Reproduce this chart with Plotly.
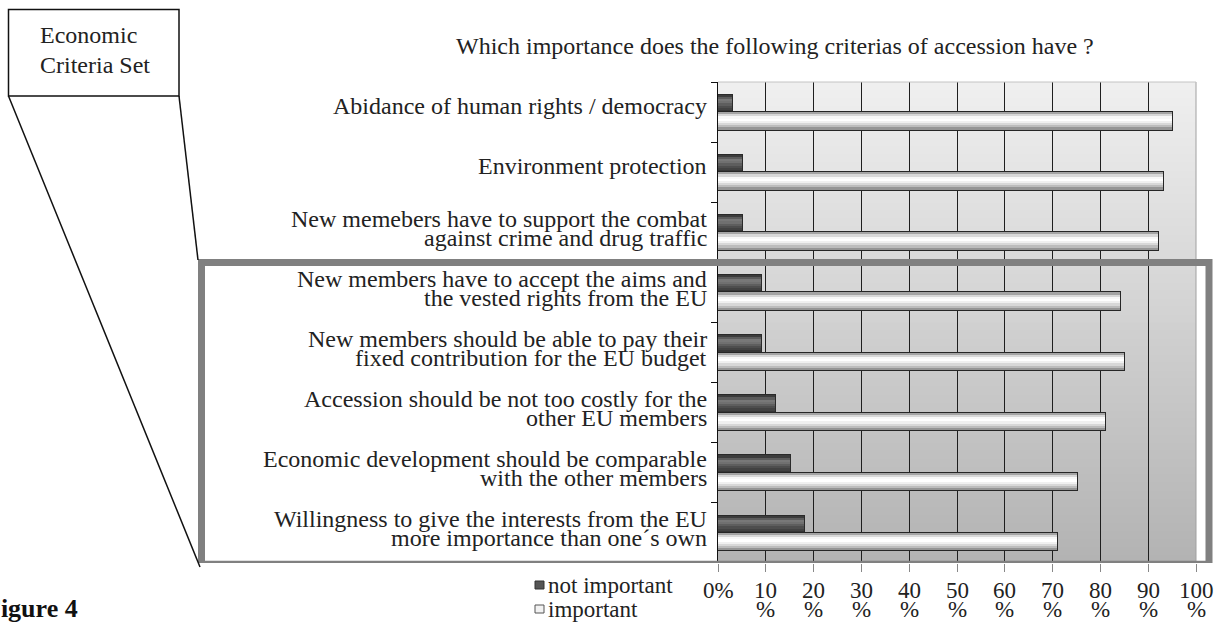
import plotly.graph_objects as go

# ---------------- data ----------------
categories = [
    "Abidance of human rights / democracy",
    "Environment protection",
    "New memebers have to support the combat\nagainst crime and drug traffic",
    "New members have to accept the aims and\nthe vested rights from the EU",
    "New members should be able to pay their\nfixed contribution for the EU budget",
    "Accession should be not too costly for the\nother EU members",
    "Economic development should be comparable\nwith the other members",
    "Willingness to give the interests from the EU\nmore importance than one\u00b4s own",
]
not_important = [3, 5, 5, 9, 9, 12, 15, 18]
important = [95, 93, 92, 84, 85, 81, 75, 71]
series_names = ["not important", "important"]
x_ticks = [0, 10, 20, 30, 40, 50, 60, 70, 80, 90, 100]
x_tick_labels = ["0%"] + [f"{v}\n%" for v in x_ticks[1:]]
title_text = "Which importance does the following criterias of accession have ?"
callout_lines = ["Economic", "Criteria Set"]
figure_label = "Figure 4"

# ---------------- layout geometry (pixels) ----------------
FIG_W, FIG_H = 1216, 622
M_L, M_R, M_T, M_B = 718, 20, 82, 59
PW = FIG_W - M_L - M_R
PH = FIG_H - M_T - M_B


def fx(px):
    return (px - M_L) / PW


def fy(py):
    return (FIG_H - M_B - py) / PH


FONT = "Liberation Serif, Times New Roman, serif"
TXT = "#222222"

ykeys = [c.replace("\n", " ") for c in categories]

fig = go.Figure()

BAR_W = 0.29
K = 8
profiles = {
    "not important": dict(
        offset=-BAR_W, mid="#555555", edge="#2a2a2a",
        strips=["#3c3c3c", "#5c5c5c", "#787878", "#707070",
                "#5e5e5e", "#4e4e4e", "#424242", "#363636"]),
    "important": dict(
        offset=0.0, mid="#e0e0e0", edge="#262626",
        strips=["#a4a4a4", "#d8d8d8", "#f8f8f8", "#ffffff",
                "#f0f0f0", "#d8d8d8", "#bcbcbc", "#959595"]),
}

for name, vals in zip(series_names, [not_important, important]):
    p = profiles[name]
    fig.add_trace(go.Bar(
        x=vals, y=ykeys, orientation="h", name=name,
        width=BAR_W, offset=p["offset"],
        marker=dict(color=p["mid"], line=dict(color=p["edge"], width=2)),
        showlegend=False, hoverinfo="x+y+name",
    ))
    h = BAR_W / K
    for k, col in enumerate(p["strips"]):
        start = p["offset"] + k * h
        w = min(h * 1.35, p["offset"] + BAR_W - start)
        fig.add_trace(go.Bar(
            x=vals, y=ykeys, orientation="h", name=name,
            width=w, offset=start,
            marker=dict(color=col, line=dict(width=0)),
            showlegend=False, hoverinfo="skip",
        ))

shapes = []
# gradient background of plot area
N = 60
top_c, bot_c = (0xF0, 0xF0, 0xF0), (0xB2, 0xB2, 0xB2)
for i in range(N):
    t = (i + 0.5) / N  # 0 at bottom
    c = tuple(round(bot_c[j] + (top_c[j] - bot_c[j]) * t) for j in range(3))
    shapes.append(dict(type="rect", xref="x domain", yref="y domain",
                       x0=0, x1=1, y0=i / N, y1=min(1, (i + 1.5) / N),
                       fillcolor="rgb(%d,%d,%d)" % c, line=dict(width=0),
                       layer="below"))
# plot border (top / right)
shapes.append(dict(type="line", xref="x domain", yref="y domain",
                   x0=1, x1=1, y0=0, y1=1, line=dict(color="#a0a0a0", width=1),
                   layer="above"))
shapes.append(dict(type="line", xref="x domain", yref="y domain",
                   x0=0, x1=1, y0=1, y1=1, line=dict(color="#c4c4c4", width=1),
                   layer="above"))
# highlight rectangle around the economic criteria
shapes.append(dict(type="rect", xref="paper", yref="y",
                   x0=fx(201.5), x1=fx(1209), y0=2.5, y1=7.52,
                   line=dict(color="#808080", width=7), fillcolor="rgba(0,0,0,0)",
                   layer="above"))
# callout box
shapes.append(dict(type="rect", xref="paper", yref="paper",
                   x0=fx(8.5), x1=fx(179), y0=fy(96), y1=fy(9.5),
                   line=dict(color="#111111", width=1.5), fillcolor="white",
                   layer="above"))
shapes.append(dict(type="line", xref="paper", yref="paper",
                   x0=fx(8.5), y0=fy(96), x1=fx(200), y1=fy(567),
                   line=dict(color="#111111", width=1.5), layer="above"))
shapes.append(dict(type="line", xref="paper", yref="paper",
                   x0=fx(179), y0=fy(96), x1=fx(198), y1=fy(260),
                   line=dict(color="#111111", width=1.5), layer="above"))
# legend squares
leg_colors = {"not important": ("#555555", "#333333"),
              "important": ("#f2f2f2", "#555555")}
leg_y = [585, 609]
for name, yc in zip(series_names, leg_y):
    fc, lc = leg_colors[name]
    shapes.append(dict(type="rect", xref="paper", yref="paper",
                       x0=fx(535), x1=fx(544), y0=fy(yc + 4), y1=fy(yc - 4),
                       fillcolor=fc, line=dict(color=lc, width=1), layer="above"))

annotations = []
# category labels (tight line spacing like the original)
PITCH = 19
for i, lab in enumerate(categories):
    lines = lab.split("\n")
    n = len(lines)
    lift = 4 if n > 1 else 6
    for j, line in enumerate(lines):
        annotations.append(dict(
            x=0, xref="paper", y=i, yref="y", xanchor="right", yanchor="middle",
            xshift=-9, yshift=lift + (n - 1) / 2 * PITCH - j * PITCH,
            text=line, showarrow=False, font=dict(family=FONT, size=24, color=TXT)))
# x tick labels
for v, lab in zip(x_ticks, x_tick_labels):
    for j, line in enumerate(lab.split("\n")):
        annotations.append(dict(
            x=v, xref="x", y=0, yref="paper", xanchor="center", yanchor="middle",
            yshift=-(27 + j * 19), text=line, showarrow=False,
            font=dict(family=FONT, size=23, color=TXT)))
# title
annotations.append(dict(x=fx(775), y=fy(46), xref="paper", yref="paper",
                        xanchor="center", yanchor="middle", text=title_text,
                        showarrow=False, font=dict(family=FONT, size=24, color=TXT)))
# callout text
for line, yc in zip(callout_lines, [35, 65]):
    annotations.append(dict(x=fx(38), y=fy(yc), xref="paper", yref="paper",
                            xanchor="left", yanchor="middle", text=line,
                            showarrow=False, font=dict(family=FONT, size=24, color=TXT)))
# legend text
for name, yc in zip(series_names, leg_y):
    annotations.append(dict(x=fx(546), y=fy(yc), xref="paper", yref="paper",
                            xanchor="left", yanchor="middle", text=name,
                            showarrow=False, font=dict(family=FONT, size=23, color=TXT)))
# figure label
annotations.append(dict(x=fx(-17), y=fy(608), xref="paper", yref="paper",
                        xanchor="left", yanchor="middle", text="<b>%s</b>" % figure_label,
                        showarrow=False, font=dict(family=FONT, size=26, color="#111111")))

fig.update_layout(
    width=FIG_W, height=FIG_H,
    margin=dict(l=M_L, r=M_R, t=M_T, b=M_B, pad=0),
    paper_bgcolor="white", plot_bgcolor="rgba(0,0,0,0)",
    barmode="overlay", bargap=0,
    showlegend=False,
    font=dict(family=FONT, size=24, color=TXT),
    shapes=shapes, annotations=annotations,
    xaxis=dict(range=[0, 100], tickvals=x_ticks, showticklabels=False,
               showgrid=True, gridcolor="#1e1e1e", gridwidth=1, zeroline=False,
               ticks="outside", ticklen=8, tickcolor="#888888", showline=False,
               fixedrange=True),
    yaxis=dict(type="category", categoryorder="array", categoryarray=ykeys,
               range=[7.5, -0.5], showticklabels=False, showgrid=False,
               zeroline=False, ticks="outside", tickson="boundaries", ticklen=6,
               tickcolor="#111111", showline=True, linecolor="#111111", linewidth=1,
               fixedrange=True),
)

fig.write_html("out.html")
